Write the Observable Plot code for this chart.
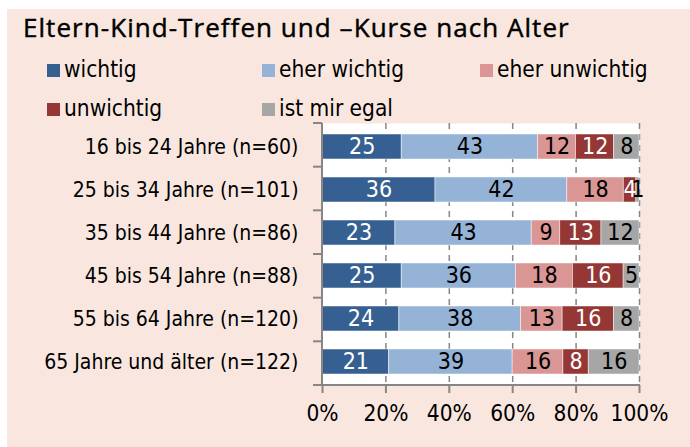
<!DOCTYPE html>
<html><head><meta charset="utf-8">
<script src="https://cdn.jsdelivr.net/npm/d3@7"></script>
<script src="https://cdn.jsdelivr.net/npm/@observablehq/plot@0.6"></script>
<style>
body{margin:0;background:#fff;}
#wrap{position:relative;width:690px;height:447px;overflow:hidden;background:#fff;font-family:"DejaVu Sans Condensed","DejaVu Sans",sans-serif;color:#000;}
#bg{position:absolute;left:7px;top:9px;width:683px;height:438px;background:#f9e7df;}
#title{position:absolute;left:23px;top:10px;font-size:26px;line-height:34px;font-family:"Open Sans","Noto Sans",sans-serif;font-weight:400;letter-spacing:1.05px;-webkit-text-stroke:0.45px #000;white-space:nowrap;}
.li{position:absolute;font-size:22.5px;white-space:nowrap;line-height:24px;}
.li span.sw{display:inline-block;width:13px;height:13px;margin-right:4px;vertical-align:0px;}
#chart{position:absolute;left:0;top:113px;}
</style></head>
<body>
<div id="wrap">
<div id="bg"></div>
<div id="title"></div>
<div id="legend"></div>
<div id="chart"></div>
</div>
<script>
const title = "Eltern-Kind-Treffen und \u2013Kurse nach Alter";
const ages = ["16 bis 24 Jahre (n=60)","25 bis 34 Jahre (n=101)","35 bis 44 Jahre (n=86)","45 bis 54 Jahre (n=88)","55 bis 64 Jahre (n=120)","65 Jahre und älter (n=122)"];
const categories = ["wichtig","eher wichtig","eher unwichtig","unwichtig","ist mir egal"];
const colors = ["#376092","#95b3d7","#d99694","#953735","#a6a6a6"];
const wichtig = [25,36,23,25,24,21];
const eherWichtig = [43,42,43,36,38,39];
const eherUnwichtig = [12,18,9,18,13,16];
const unwichtig = [12,4,13,16,16,8];
const egal = [8,1,12,5,8,16];
const xTicks = [0,0.2,0.4,0.6,0.8,1];
const darkCats = ["wichtig","unwichtig"];

const series = [wichtig, eherWichtig, eherUnwichtig, unwichtig, egal];
const rows = [];
ages.forEach((a,i)=>categories.forEach((c,j)=>rows.push({age:a,cat:c,value:series[j][i]})));

document.getElementById("title").textContent = title;
const legendPos = [[47,57],[262,57],[480,57],[47,96],[262,96]];
const leg = document.getElementById("legend");
categories.forEach((c,j)=>{
  const d = document.createElement("div");
  d.className="li";
  d.style.left = legendPos[j][0]+"px"; d.style.top = legendPos[j][1]+"px";
  d.innerHTML = `<span class="sw" style="background:${colors[j]}"></span>${c}`;
  leg.appendChild(d);
});

const stackOpts = {offset:"normalize", order:categories, x:"value", y:"age", z:"cat"};
const axisColor = "#868686";

function axesMark(index, scales, values, dims, context){
  const {width,height,marginLeft:l,marginRight:r,marginTop:t,marginBottom:b} = dims;
  const g = d3.create("svg:g").attr("stroke", axisColor).attr("stroke-width", 2).attr("fill","none");
  g.append("line").attr("x1",l).attr("x2",l).attr("y1",t).attr("y2",height-b);
  g.append("line").attr("x1",l-1).attr("x2",width-r+1).attr("y1",height-b).attr("y2",height-b);
  const n = ages.length;
  for(let i=0;i<=n;i++){
    const y = t + i*(height-t-b)/n;
    g.append("line").attr("x1",l-9).attr("x2",l).attr("y1",y).attr("y2",y);
  }
  return g.node();
}

const plot = Plot.plot({
  width:690, height:334,
  marginLeft:322, marginRight:51, marginTop:10, marginBottom:62,
  style:{background:"transparent", fontFamily:'"DejaVu Sans Condensed","DejaVu Sans",sans-serif', fontSize:"22px", color:"#000", overflow:"visible"},
  x:{domain:[0,1], ticks:xTicks, tickFormat:d=>Math.round(d*100)+"%"},
  y:{domain:ages, paddingInner:0.43, paddingOuter:0.22},
  color:{domain:categories, range:colors},
  marks:[
    Plot.frame({fill:"white", stroke:null}),
    Plot.gridX(xTicks.slice(1), {stroke:axisColor, strokeOpacity:1, strokeWidth:1.5, strokeDasharray:"6,5"}),
    Plot.barX(rows, Plot.stackX({...stackOpts, fill:"cat", stroke:"white", strokeWidth:0.8, strokeOpacity:0.6})),
    Plot.textX(rows, Plot.stackX({...stackOpts, text:d=>darkCats.includes(d.cat)?d.value:"", fill:"white", fontSize:23})),
    Plot.textX(rows, Plot.stackX({...stackOpts, text:d=>darkCats.includes(d.cat)?"":d.value, fill:"black", fontSize:23})),
    Plot.axisX({ticks:xTicks, tickSize:8, tickPadding:12, stroke:axisColor, strokeWidth:2, fontSize:22.5, label:null, tickFormat:d=>Math.round(d*100)+"%"}),
    Plot.axisY({tickSize:0, tickPadding:24, fontSize:21, label:null}),
    axesMark
  ]
});
document.getElementById("chart").appendChild(plot);
</script>
</body></html>
